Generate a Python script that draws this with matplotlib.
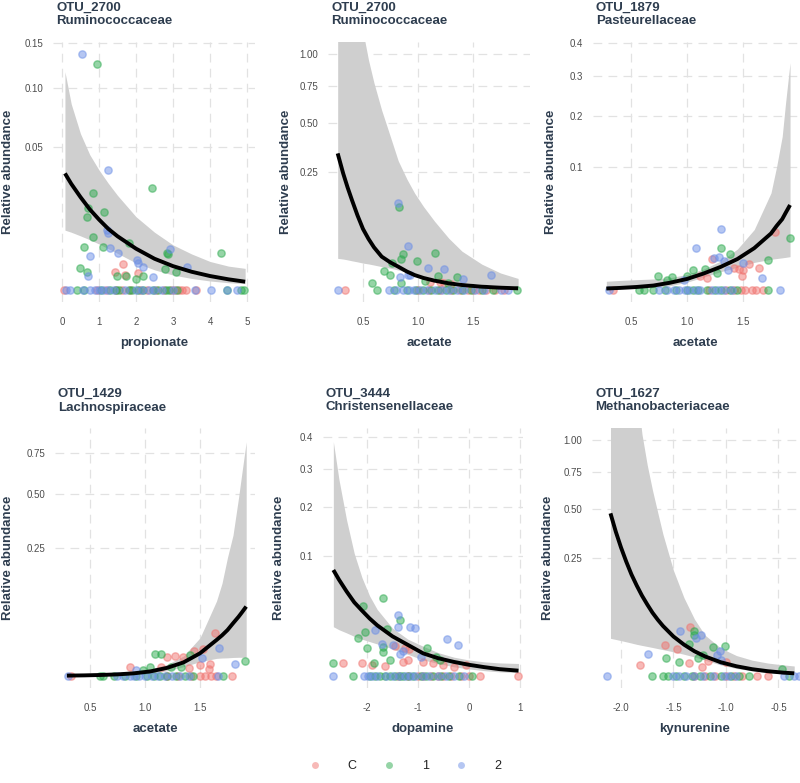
import numpy as np
import matplotlib.pyplot as plt
from matplotlib.lines import Line2D

plt.rcParams['font.family'] = ['Liberation Sans', 'DejaVu Sans']

W, H = 800, 783
col = {'C': '#F07470', '1': '#2DAA4F', '2': '#6C8FE6'}
txt_col = '#2E3D4F'
tick_col = '#4D4D4D'

# ---------------- panel 1 : OTU_2700 / propionate ----------------
p1_C_x = [1.64, 1.43, 1.70, 2.06]
p1_C_y = [0.00166, 0.00083, 0.00055, 0.00068]
p1_C_x0 = [0.06, 0.95, 1.2, 1.45, 1.62, 1.85, 2.1, 2.3, 2.55, 2.75, 2.95, 3.05, 3.15, 3.25, 3.35, 3.62]
p1_1_x = [0.94, 2.44, 0.85, 0.71, 0.68, 1.14, 0.85, 0.60, 1.12, 1.82, 2.83, 2.87, 4.29, 0.49, 0.68,
          1.48, 1.73, 2.0, 2.18, 2.78, 3.08]
p1_1_y = [0.125, 0.0254, 0.0233, 0.0164, 0.0130, 0.0151, 0.0070, 0.00447, 0.00461, 0.00535, 0.0033,
          0.0032, 0.0033, 0.00115, 0.00083, 0.00048, 0.00048, 0.00028, 0.00045, 0.00105, 0.00083]
p1_1_x0 = [0.4, 0.6, 1.05, 1.3, 1.45, 1.55, 1.8, 1.9, 2.05, 2.2, 2.45, 2.6, 2.8, 2.9, 3.1, 4.45, 4.85, 4.92]
p1_2_x = [0.53, 1.25, 1.21, 1.25, 1.30, 1.52, 0.76, 2.02, 2.06, 2.92, 0.71, 2.2, 2.45, 3.37]
p1_2_y = [0.137, 0.0354, 0.0088, 0.0079, 0.00427, 0.0033, 0.0029, 0.0022, 0.00175, 0.00406, 0.00048,
          0.00134, 0.00044, 0.00134]
p1_2_x0 = [0.1, 0.22, 0.58, 0.75, 0.9, 1.0, 1.1, 1.25, 1.4, 1.7, 2.0, 2.15, 2.35, 2.5, 2.7, 3.0, 3.6,
           4.02, 4.45, 4.72]
p1_fit_x = [0.08, 0.25, 0.5, 0.75, 1.0, 1.25, 1.5, 2.0, 2.5, 3.0, 3.5, 4.0, 4.5, 4.95]
p1_fit = [0.0334, 0.0277, 0.0212, 0.016, 0.0122, 0.0092, 0.0071, 0.0042, 0.0024, 0.0014, 0.00082,
          0.00048, 0.00028, 0.00017]
p1_hi = [0.117, 0.085, 0.060, 0.045, 0.0354, 0.028, 0.022, 0.0132, 0.0082, 0.0050, 0.0032, 0.0020,
         0.0014, 0.00115]
p1_lo = [0.0088, 0.0082, 0.0072, 0.0062, 0.0052, 0.0042, 0.0033, 0.0018, 0.0010, 0.00055, 0.00033,
         0.0002, 0.00013, 0.0001]

# ---------------- panel 2 : OTU_2700 / acetate ----------------
p2_C_x = [1.11, 1.2, 1.24, 1.3]
p2_C_y = [0.0012, 0.0012, 0.0009, 0.0006]
p2_C_x0 = [0.34, 1.0, 1.1, 1.2, 1.3, 1.38, 1.45, 1.5, 1.55, 1.62, 1.7, 1.78]
p2_1_x = [0.83, 0.867, 0.85, 0.99, 1.15, 0.76, 0.69, 0.75, 0.58, 0.85, 1.18, 1.35, 1.06, 1.27]
p2_1_y = [0.1227, 0.0233, 0.0169, 0.0154, 0.025, 0.0128, 0.0067, 0.0040, 0.00097, 0.0008, 0.0035,
          0.0032, 0.0015, 0.0008]
p2_1_x0 = [0.63, 0.78, 0.9, 0.98, 1.05, 1.12, 1.18, 1.25, 1.32, 1.4, 1.48, 1.58, 1.68, 1.9]
p2_2_x = [0.82, 0.906, 0.84, 0.906, 0.93, 1.09, 1.24, 1.41, 1.66]
p2_2_y = [0.137, 0.0353, 0.0032, 0.0040, 0.0040, 0.0084, 0.0077, 0.002, 0.004]
p2_2_x0 = [0.27, 0.74, 0.8, 0.86, 0.92, 0.96, 1.02, 1.08, 1.15, 1.22, 1.28, 1.35, 1.42, 1.52, 1.6,
           1.75, 1.82]
p2_fit_x = [0.27, 0.32, 0.36, 0.4, 0.45, 0.5, 0.55, 0.6, 0.67, 0.75, 0.82, 0.9, 0.97, 1.05, 1.15,
            1.28, 1.4, 1.58, 1.75, 1.91]
p2_fit = [0.335, 0.244, 0.189, 0.145, 0.100, 0.067, 0.047, 0.0327, 0.020, 0.0136, 0.0098, 0.0061,
          0.004, 0.0026, 0.00157, 0.0008, 0.00045, 0.0002, 0.000095, 0.00005]
p2_hi = [3.0, 2.6, 2.2, 1.8, 1.5, 1.2, 0.95, 0.77, 0.58, 0.42, 0.30, 0.22, 0.168, 0.125, 0.085, 0.048,
         0.027, 0.012, 0.0052, 0.0024]
p2_lo = [0.018, 0.0172, 0.0163, 0.0153, 0.0142, 0.013, 0.0122, 0.0112, 0.0098, 0.0085, 0.0072, 0.0057,
         0.0045, 0.0034, 0.0024, 0.0015, 0.001, 0.0006, 0.00035, 0.0002]

# ---------------- panel 3 : OTU_1879 / acetate ----------------
p3_C_x = [1.79, 1.22, 1.42, 1.46, 1.50, 1.64, 1.12, 1.18, 1.49, 1.55]
p3_C_y = [0.0224, 0.0062, 0.0031, 0.0028, 0.0025, 0.0031, 0.0012, 0.0010, 0.0012, 0.0045]
p3_C_x0 = [0.34, 1.2, 1.35, 1.42, 1.48, 1.52, 1.58, 1.62, 1.68]
p3_1_x = [1.30, 1.38, 1.92, 1.72, 1.16, 1.05, 0.74, 0.87, 1.27, 0.82, 1.0]
p3_1_y = [0.0114, 0.0085, 0.0176, 0.0059, 0.0028, 0.0025, 0.0012, 0.00106, 0.0018, 0.0007, 0.0012]
p3_1_x0 = [0.57, 0.62, 0.7, 0.8, 0.9, 1.0, 1.05, 1.1, 1.18, 1.25, 1.3, 1.38, 1.45, 1.72]
p3_2_x = [1.30, 1.08, 1.29, 1.24, 1.5, 1.37, 0.97, 1.67, 1.33]
p3_2_y = [0.0242, 0.0114, 0.0073, 0.0066, 0.0047, 0.0025, 0.0007, 0.0009, 0.0055]
p3_2_x0 = [0.3, 0.75, 0.82, 0.88, 0.93, 0.98, 1.02, 1.08, 1.12, 1.22, 1.28, 1.33, 1.4, 1.83]
p3_fit_x = [0.28, 0.4, 0.55, 0.7, 0.85, 1.0, 1.15, 1.3, 1.45, 1.6, 1.75, 1.8, 1.85, 1.88, 1.92]
p3_fit = [0.000015, 0.000028, 0.00006, 0.00013, 0.00035, 0.0008, 0.0018, 0.0035, 0.0063, 0.0115,
          0.021, 0.027, 0.033, 0.039, 0.0475]
p3_hi = [0.0005, 0.0006, 0.0007, 0.0008, 0.001, 0.0016, 0.0029, 0.0055, 0.011, 0.024, 0.062, 0.10,
         0.155, 0.23, 0.34]
p3_lo = [0.0, 0.000005, 0.00001, 0.00004, 0.00012, 0.0004, 0.0011, 0.0022, 0.0034, 0.0050, 0.0062,
         0.0065, 0.0068, 0.007, 0.0073]

# ---------------- panel 4 : OTU_1429 / acetate ----------------
p4_C_x = [1.64, 1.53, 1.45, 1.2, 1.27, 1.35, 1.59, 1.50, 0.86, 1.15, 1.58, 1.4]
p4_C_y = [0.0276, 0.0108, 0.0095, 0.0053, 0.0058, 0.0053, 0.0022, 0.0018, 0.00114, 0.0012, 0.0008, 0.0009]
p4_C_x0 = [0.33, 1.2, 1.3, 1.42, 1.5, 1.55, 1.6, 1.65, 1.79]
p4_1_x = [1.41, 1.09, 1.15, 1.91, 1.05, 1.33, 1.24, 0.98]
p4_1_y = [0.0067, 0.0073, 0.0073, 0.0036, 0.0013, 0.0011, 0.0011, 0.0006]
p4_1_x0 = [0.59, 0.62, 0.72, 0.82, 0.92, 1.02, 1.08, 1.14, 1.2, 1.28, 1.36, 1.44, 1.71]
p4_2_x = [1.67, 1.82, 1.52, 0.92]
p4_2_y = [0.0116, 0.0022, 0.0047, 0.0005]
p4_2_x0 = [0.3, 0.75, 0.8, 0.86, 0.9, 0.95, 1.0, 1.06, 1.12, 1.18, 1.25, 1.32, 1.4, 1.66]
p4_fit_x = [0.29, 0.45, 0.6, 0.75, 0.9, 1.05, 1.2, 1.35, 1.5, 1.65, 1.7, 1.75, 1.8, 1.85, 1.88, 1.92]
p4_fit = [0.0000022, 0.000006, 0.000016, 0.00004, 0.00011, 0.00032, 0.001, 0.0028, 0.0078, 0.0196,
          0.025, 0.032, 0.042, 0.053, 0.061, 0.073]
p4_hi = [0.00004, 0.00006, 0.0001, 0.00018, 0.00035, 0.0008, 0.002, 0.006, 0.022, 0.085, 0.13, 0.213,
         0.30, 0.48, 0.62, 0.83]
p4_lo = [0.0, 0.0, 0.000002, 0.000008, 0.00003, 0.0001, 0.0004, 0.0013, 0.0031, 0.0047, 0.0049, 0.005,
         0.0052, 0.0053, 0.0053, 0.0053]

# ---------------- panel 5 : OTU_3444 / dopamine ----------------
p5_C_x = [-2.48, -2.1, -1.45, -1.25, -1.18, -1.3, -1.2, -0.9, -0.7, -0.5, -0.05, -1.65, -1.9, -0.3]
p5_C_y = [0.0011, 0.0012, 0.0062, 0.0055, 0.005, 0.0014, 0.0018, 0.0014, 0.0012, 0.0008, 0.0009,
          0.0007, 0.0008, 0.0006]
p5_C_x0 = [-1.4, -1.2, -1.0, -0.9, -0.75, -0.6, -0.5, -0.35, -0.15, 0.0, 0.22, 0.97]
p5_1_x = [-1.68, -2.07, -1.35, -2.04, -2.18, -1.61, -2.0, -1.68, -1.68, -0.83, -2.66, -1.86, -1.55,
          -0.65, -0.57]
p5_1_y = [0.0422, 0.0343, 0.0219, 0.0138, 0.0099, 0.0155, 0.0054, 0.006, 0.004, 0.0055, 0.0011, 0.0011,
          0.0018, 0.0025, 0.0019]
p5_1_x0 = [-2.27, -1.95, -1.85, -1.75, -1.65, -1.55, -1.45, -1.35, -1.3, -1.2, -1.1, -0.95, -0.85, -0.7,
           -0.55, -0.4, -0.2, 0.05]
p5_2_x = [-1.39, -1.16, -1.05, -1.84, -1.39, -0.44, -0.22, -1.71, -1.5, -1.3, -0.95, -1.35]
p5_2_y = [0.026, 0.017, 0.0159, 0.0145, 0.0165, 0.0094, 0.0067, 0.0072, 0.0067, 0.0045, 0.0025, 0.0035]
p5_2_x0 = [-2.66, -2.05, -1.98, -1.9, -1.8, -1.62, -1.5, -1.38, -1.25, -1.15, -1.05, -0.9, -0.78, -0.6,
           -0.45, -0.3, -0.1]
p5_fit_x = [-2.66, -2.55, -2.4, -2.25, -2.1, -1.95, -1.8, -1.5, -1.2, -0.9, -0.6, -0.3, 0.0, 0.3, 0.6,
            0.97]
p5_fit = [0.0786, 0.065, 0.050, 0.038, 0.030, 0.0232, 0.018, 0.0110, 0.0068, 0.0036, 0.0022, 0.0014,
          0.00088, 0.00055, 0.00033, 0.0002]
p5_hi = [0.384, 0.27, 0.17, 0.105, 0.068, 0.045, 0.031, 0.016, 0.0095, 0.0062, 0.0038, 0.0025, 0.0018,
         0.0014, 0.0012, 0.0011]
p5_lo = [0.017, 0.015, 0.013, 0.011, 0.0095, 0.0083, 0.0072, 0.0052, 0.0033, 0.0018, 0.0011, 0.0006,
         0.00035, 0.0002, 0.00012, 0.00008]

# ---------------- panel 6 : OTU_1627 / kynurenine ----------------
p6_C_x = [-1.34, -1.58, -1.47, -1.82, -1.35, -1.17, -1.23, -1.0]
p6_C_y = [0.0425, 0.0173, 0.0128, 0.0022, 0.0030, 0.0040, 0.0015, 0.0035]
p6_C_x0 = [-1.3, -1.2, -1.1, -1.0, -0.92, -0.85, -0.7, -0.6]
p6_1_x = [-1.30, -1.30, -1.35, -1.12, -1.01, -1.57, -1.45, -1.22, -1.27, -0.47]
p6_1_y = [0.0369, 0.030, 0.0185, 0.0154, 0.0165, 0.0058, 0.0035, 0.0078, 0.006, 0.0008]
p6_1_x0 = [-1.7, -1.6, -1.55, -1.48, -1.4, -1.32, -1.25, -1.15, -1.05, -0.95, -0.88, -0.78, -0.4]
p6_2_x = [-1.44, -1.24, -1.29, -1.74, -1.06, -1.09, -1.05]
p6_2_y = [0.0369, 0.030, 0.0255, 0.0087, 0.0108, 0.0078, 0.0045]
p6_2_x0 = [-2.13, -1.5, -1.45, -1.38, -1.3, -1.22, -1.12, -1.02, -0.97, -0.9, -0.45, -0.35, -0.3]
p6_fit_x = [-2.1, -2.05, -2.0, -1.95, -1.9, -1.85, -1.8, -1.75, -1.7, -1.65, -1.6, -1.5, -1.4, -1.3,
            -1.2, -1.05, -0.9, -0.75, -0.6, -0.45, -0.35]
p6_fit = [0.475, 0.375, 0.297, 0.235, 0.185, 0.147, 0.116, 0.092, 0.072, 0.057, 0.045, 0.028, 0.0177,
          0.011, 0.0069, 0.0034, 0.0017, 0.00083, 0.00041, 0.0002, 0.00013]
p6_hi = [5.0, 4.3, 3.6, 2.9, 2.2, 1.5, 1.05, 0.80, 0.62, 0.48, 0.36, 0.20, 0.11, 0.058, 0.03, 0.014,
         0.0075, 0.0045, 0.003, 0.0022, 0.0018]
p6_lo = [0.0255, 0.024, 0.0225, 0.021, 0.0195, 0.018, 0.0168, 0.0157, 0.0146, 0.0135, 0.0125, 0.0105,
         0.0085, 0.0065, 0.0045, 0.0022, 0.001, 0.0005, 0.0002, 0.00008, 0.00003]


def fwd(y):
    y = np.asarray(y, dtype=float)
    return np.sign(y) * np.sqrt(np.abs(y))


def inv(y):
    y = np.asarray(y, dtype=float)
    return np.sign(y) * y ** 2


fig = plt.figure(figsize=(W / 100, H / 100), dpi=100)


def panel(box, xlim, slim, otu, fam, xlab, xticks, xtl, yticks, ytl, pts, fx, fy, lo, hi, ylab_px):
    left, right, top, bottom = box
    ax = fig.add_axes([left / W, 1 - bottom / H, (right - left) / W, (bottom - top) / H])
    ax.set_yscale('function', functions=(fwd, inv))
    ax.set_xlim(*xlim)
    ax.set_ylim(inv(slim[0]), inv(slim[1]))
    for s in ax.spines.values():
        s.set_visible(False)
    ax.grid(True, color='#e2e2e2', linestyle=(0, (7, 5)), linewidth=0.9)
    ax.set_axisbelow(True)
    ax.set_xticks(xticks)
    ax.set_xticklabels(xtl)
    ax.set_yticks(yticks)
    ax.set_yticklabels(ytl)
    ax.minorticks_off()
    ax.tick_params(length=0, labelsize=7, labelcolor=tick_col)
    ax.tick_params(axis='x', pad=11)
    ax.tick_params(axis='y', pad=7)

    # confidence band, points, fitted curve
    ax.fill_between(fx, lo, hi, color='#cfcfcf', lw=0, zorder=2)
    for g in ['C', '1', '2']:
        xs, ys, x0 = pts[g]
        ax.scatter(list(x0) + list(xs), [0] * len(x0) + list(ys), s=28, color=col[g],
                   alpha=0.5, linewidths=1.0, zorder=3, clip_on=False)
    ax.plot(fx, fy, color='black', lw=2.8, zorder=4, solid_capstyle='butt')

    fig.text((left + 3) / W, 1 - (top - 31.5) / H, otu, fontsize=9.5, fontweight='bold',
             color=txt_col, va='baseline', ha='left')
    fig.text((left + 3) / W, 1 - (top - 17.5) / H, fam, fontsize=9.5, fontweight='bold',
             color=txt_col, va='baseline', ha='left')
    fig.text((left + right) / 2 / W, 1 - (bottom + 44) / H, xlab, fontsize=9.5, fontweight='bold',
             color=txt_col, va='baseline', ha='center')
    fig.text(ylab_px / W, 1 - (top + bottom) / 2 / H, 'Relative abundance', fontsize=9.5,
             fontweight='bold', color=txt_col, rotation=90, va='center', ha='center')
    return ax


panel((53, 255, 42, 302), (-0.243, 5.216), (-0.0188, 0.3887), 'OTU_2700', 'Ruminococcaceae',
      'propionate', [0, 1, 2, 3, 4, 5], ['0', '1', '2', '3', '4', '5'],
      [0.05, 0.10, 0.15], ['0.05', '0.10', '0.15'],
      {'C': (p1_C_x, p1_C_y, p1_C_x0), '1': (p1_1_x, p1_1_y, p1_1_x0), '2': (p1_2_x, p1_2_y, p1_2_x0)},
      p1_fit_x, p1_fit, p1_lo, p1_hi, 8)

panel((328, 530, 42, 302), (0.182, 2.018), (-0.0508, 1.0508), 'OTU_2700', 'Ruminococcaceae',
      'acetate', [0.5, 1.0, 1.5], ['0.5', '1.0', '1.5'],
      [0.25, 0.50, 0.75, 1.00], ['0.25', '0.50', '0.75', '1.00'],
      {'C': (p2_C_x, p2_C_y, p2_C_x0), '1': (p2_1_x, p2_1_y, p2_1_x0), '2': (p2_2_x, p2_2_y, p2_2_x0)},
      p2_fit_x, p2_fit, p2_lo, p2_hi, 286)

panel((593, 798, 42, 302), (0.161, 1.991), (-0.0308, 0.636), 'OTU_1879', 'Pasteurellaceae',
      'acetate', [0.5, 1.0, 1.5], ['0.5', '1.0', '1.5'],
      [0.1, 0.2, 0.3, 0.4], ['0.1', '0.2', '0.3', '0.4'],
      {'C': (p3_C_x, p3_C_y, p3_C_x0), '1': (p3_1_x, p3_1_y, p3_1_x0), '2': (p3_2_x, p3_2_y, p3_2_x0)},
      p3_fit_x, p3_fit, p3_lo, p3_hi, 551)

panel((55, 255, 428, 688), (0.182, 2.0), (-0.0467, 0.965), 'OTU_1429', 'Lachnospiraceae',
      'acetate', [0.5, 1.0, 1.5], ['0.5', '1.0', '1.5'],
      [0.25, 0.50, 0.75], ['0.25', '0.50', '0.75'],
      {'C': (p4_C_x, p4_C_y, p4_C_x0), '1': (p4_1_x, p4_1_y, p4_1_x0), '2': (p4_2_x, p4_2_y, p4_2_x0)},
      p4_fit_x, p4_fit, p4_lo, p4_hi, 8)

panel((323, 523, 428, 688), (-2.863, 1.059), (-0.0317, 0.656), 'OTU_3444', 'Christensenellaceae',
      'dopamine', [-2, -1, 0, 1], ['-2', '-1', '0', '1'],
      [0.1, 0.2, 0.3, 0.4], ['0.1', '0.2', '0.3', '0.4'],
      {'C': (p5_C_x, p5_C_y, p5_C_x0), '1': (p5_1_x, p5_1_y, p5_1_x0), '2': (p5_2_x, p5_2_y, p5_2_x0)},
      p5_fit_x, p5_fit, p5_lo, p5_hi, 279)

panel((592, 798, 428, 688), (-2.276, -0.314), (-0.0508, 1.0508), 'OTU_1627', 'Methanobacteriaceae',
      'kynurenine', [-2.0, -1.5, -1.0, -0.5], ['-2.0', '-1.5', '-1.0', '-0.5'],
      [0.25, 0.50, 0.75, 1.00], ['0.25', '0.50', '0.75', '1.00'],
      {'C': (p6_C_x, p6_C_y, p6_C_x0), '1': (p6_1_x, p6_1_y, p6_1_x0), '2': (p6_2_x, p6_2_y, p6_2_x0)},
      p6_fit_x, p6_fit, p6_lo, p6_hi, 548)

handles = [Line2D([], [], marker='o', linestyle='none', markersize=5, markeredgewidth=0,
                  color=col[g], alpha=0.5) for g in ['C', '1', '2']]
fig.legend(handles, ['C', '1', '2'], loc='center', bbox_to_anchor=(405 / W, 1 - 766 / H), ncol=3,
           frameon=False, fontsize=9, handlelength=1, handletextpad=2.1, columnspacing=2.1,
           labelcolor='#222222')

fig.savefig('out.png', dpi=100)
